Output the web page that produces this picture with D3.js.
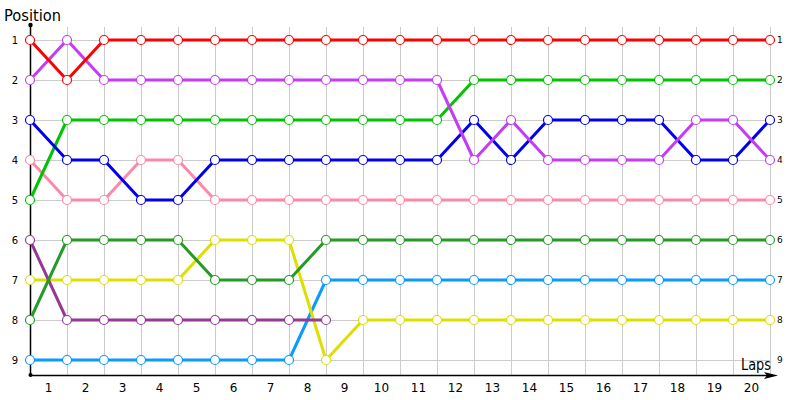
<!DOCTYPE html>
<html>
<head>
<meta charset="utf-8">
<script src="https://cdn.jsdelivr.net/npm/d3@7"></script>
<style>
  html, body { margin: 0; padding: 0; background: #fff; }
  svg { display: block; font-family: "DejaVu Sans", Verdana, sans-serif; }
</style>
</head>
<body>
<div id="chart"></div>
<script>
// ---- data ----
// lap boundaries 0..20 (points), lap labels 1..20 (bands)
const laps = d3.range(1, 21);
const positions = [1, 2, 3, 4, 5, 6, 7, 8, 9];

const red       = [1,2,1,1,1,1,1,1,1,1,1,1,1,1,1,1,1,1,1,1,1];
const violet    = [2,1,2,2,2,2,2,2,2,2,2,2,4,3,4,4,4,4,3,3,4];
const blue      = [3,4,4,5,5,4,4,4,4,4,4,4,3,4,3,3,3,3,4,4,3];
const green     = [5,3,3,3,3,3,3,3,3,3,3,3,2,2,2,2,2,2,2,2,2];
const pink      = [4,5,5,4,4,5,5,5,5,5,5,5,5,5,5,5,5,5,5,5,5];
const darkGreen = [8,6,6,6,6,7,7,7,6,6,6,6,6,6,6,6,6,6,6,6,6];
const purple    = [6,8,8,8,8,8,8,8,8];
const yellow    = [7,7,7,7,7,6,6,6,9,8,8,8,8,8,8,8,8,8,8,8,8];
const lightBlue = [9,9,9,9,9,9,9,9,7,7,7,7,7,7,7,7,7,7,7,7,7];

const series = [
  { values: lightBlue, color: '#0a9bff' },
  { values: yellow,    color: '#dede00' },
  { values: purple,    color: '#943a94' },
  { values: darkGreen, color: '#259a25' },
  { values: pink,      color: '#ff88aa' },
  { values: green,     color: '#00c400' },
  { values: blue,      color: '#0000ee' },
  { values: violet,    color: '#c43cf4' },
  { values: red,       color: '#ff0000' }
];

// ---- layout ----
const W = 800, H = 400;
const x0 = 30, x1 = 770, yTop = 25, yBase = 375;

const svg = d3.select('#chart').append('svg')
  .attr('width', W).attr('height', H);

const x = d3.scaleLinear().domain([0, 20]).range([x0, x1]);
const y = d3.scaleLinear().domain([1, 9]).range([40, 360]);
const xBand = d3.scaleBand().domain(laps).range([x0, x1]).padding(0);

// grid
const grid = svg.append('g').attr('stroke', '#cccccc').attr('stroke-width', 1);
grid.selectAll('line.v').data(d3.range(0, 21)).join('line')
  .attr('class', 'v')
  .attr('x1', d => x(d) + 0.5).attr('x2', d => x(d) + 0.5)
  .attr('y1', 27).attr('y2', yBase);
grid.selectAll('line.h').data(positions).join('line')
  .attr('class', 'h')
  .attr('x1', x0).attr('x2', x1)
  .attr('y1', d => y(d) + 0.5).attr('y2', d => y(d) + 0.5);

// axes lines
svg.append('line')
  .attr('x1', x0 + 0.5).attr('x2', x0 + 0.5)
  .attr('y1', yTop).attr('y2', yBase)
  .attr('stroke', '#000').attr('stroke-width', 1.5);
svg.append('circle').attr('cx', x0 + 0.5).attr('cy', yTop).attr('r', 2.2).attr('fill', '#000');
svg.append('circle').attr('cx', x0 + 0.5).attr('cy', yBase).attr('r', 2).attr('fill', '#000');
svg.append('line')
  .attr('x1', x0).attr('x2', 770)
  .attr('y1', yBase + 0.5).attr('y2', yBase + 0.5)
  .attr('stroke', '#000').attr('stroke-width', 1.5);
svg.append('path')
  .attr('d', `M778,${yBase + 0.5} L764,${yBase - 3} L767,${yBase + 0.5} L764,${yBase + 4} Z`)
  .attr('fill', '#000');

// bottom lap labels
const xAxis = svg.append('g')
  .attr('transform', `translate(0,${yBase})`)
  .call(d3.axisBottom(xBand).tickSize(0).tickPadding(8));
xAxis.select('.domain').remove();
xAxis.selectAll('text').attr('font-size', 12).attr('fill', '#000')
  .attr('font-family', '"DejaVu Sans", Verdana, sans-serif');

// left position labels
const yLeft = svg.append('g')
  .attr('transform', `translate(${x0},0)`)
  .call(d3.axisLeft(y).tickValues(positions).tickFormat(d3.format('d')).tickSize(0).tickPadding(12));
yLeft.select('.domain').remove();
yLeft.selectAll('text').attr('font-size', 10).attr('fill', '#000')
  .attr('font-family', '"DejaVu Sans", Verdana, sans-serif');

// right position labels
const yRight = svg.append('g')
  .attr('transform', `translate(${x1},0)`)
  .call(d3.axisRight(y).tickValues(positions).tickFormat(d3.format('d')).tickSize(0).tickPadding(7));
yRight.select('.domain').remove();
yRight.selectAll('text').attr('font-size', 9).attr('fill', '#000')
  .attr('font-family', '"DejaVu Sans", Verdana, sans-serif');

// titles
svg.append('text').attr('x', 4).attr('y', 21)
  .attr('font-size', 16).attr('font-family', '"DejaVu Sans", Verdana, sans-serif')
  .attr('textLength', 57).attr('lengthAdjust', 'spacingAndGlyphs')
  .text('Position');
svg.append('text').attr('x', 741).attr('y', 370)
  .attr('font-size', 16).attr('font-family', '"DejaVu Sans", Verdana, sans-serif')
  .attr('textLength', 30).attr('lengthAdjust', 'spacingAndGlyphs')
  .text('Laps');

// lines + markers
const line = d3.line()
  .x((d, i) => x(i))
  .y(d => y(d));

const sg = svg.append('g').selectAll('g').data(series).join('g');
sg.append('path')
  .attr('d', d => line(d.values))
  .attr('fill', 'none')
  .attr('stroke', d => d.color)
  .attr('stroke-width', 3)
  .attr('stroke-linejoin', 'round');
sg.each(function (s) {
  d3.select(this).selectAll('circle').data(s.values).join('circle')
    .attr('cx', (d, i) => x(i))
    .attr('cy', d => y(d))
    .attr('r', 4.5)
    .attr('fill', '#fff')
    .attr('stroke', s.color)
    .attr('stroke-width', 1.2);
});
</script>
</body>
</html>
